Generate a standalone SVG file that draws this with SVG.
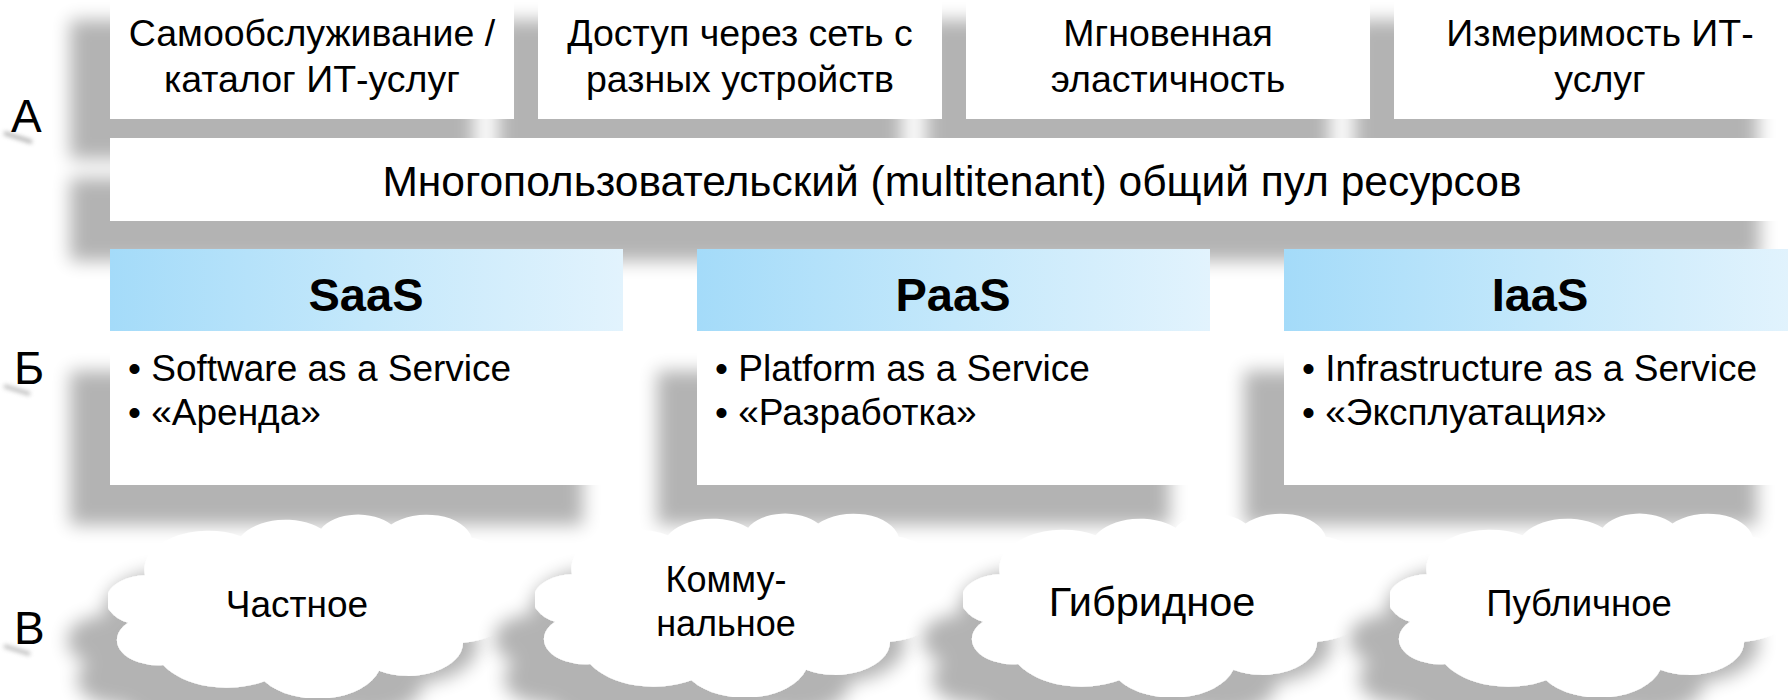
<svg xmlns="http://www.w3.org/2000/svg" xmlns:xlink="http://www.w3.org/1999/xlink" width="1788" height="700" viewBox="0 0 1788 700">
  <defs>
    <style>
      text { font-family: "Liberation Sans", Arial, Helvetica, sans-serif; fill: #000; }
      .top { font-size: 37.5px; text-anchor: middle; }
      .bar { font-size: 42.5px; text-anchor: middle; }
      .hdr { font-size: 47px; font-weight: bold; text-anchor: middle; }
      .bul { font-size: 37px; }
      .cl { font-size: 37px; text-anchor: middle; }
      .lbl { font-size: 46px; }
      .box { fill: #ffffff; }
    </style>
    <filter id="sh" x="-15%" y="-15%" width="130%" height="160%">
      <feGaussianBlur in="SourceAlpha" stdDeviation="9" result="b"/>
      <feOffset in="b" dx="-40" dy="40" result="o"/>
      <feComponentTransfer in="o" result="s"><feFuncA type="linear" slope="0.3"/></feComponentTransfer>
      <feMerge><feMergeNode in="s"/><feMergeNode in="SourceGraphic"/></feMerge>
    </filter>
    <filter id="smudge" x="-50%" y="-200%" width="200%" height="500%">
      <feGaussianBlur stdDeviation="2"/>
    </filter>
    <linearGradient id="hg" x1="0" y1="0" x2="1" y2="0">
      <stop offset="0" stop-color="#a4dbf9"/>
      <stop offset="0.5" stop-color="#c4e8fb"/>
      <stop offset="1" stop-color="#e2f3fd"/>
    </linearGradient>
    <symbol id="cloud" viewBox="0 0 43200 43200" preserveAspectRatio="none">
      <path fill="#ffffff" d="M3900 14370 A6753 9190 0 0 1 14005 5202 A5333 7267 0 0 1 22460 3434 A4365 5945 0 0 1 29838 2483 A4857 6595 0 0 1 38323 5578 A5333 7273 0 0 1 41824 15462 A6775 9220 0 0 1 37409 30204 A5785 7867 0 0 1 28560 36814 A6752 9215 0 0 1 16487 39269 A7720 10543 0 0 1 5811 35474 A4360 5918 0 0 1 2119 25553 A4345 5945 0 0 1 3900 14370 Z"/>
    </symbol>
  </defs>

  <rect x="0" y="0" width="1788" height="700" fill="#ffffff"/>

  <!-- Row labels -->
  <g id="labels">
    <path d="M4 133 L32 142" stroke="#9a9a9a" stroke-width="4" fill="none" filter="url(#smudge)" opacity="0.7"/>
    <path d="M4 386 L30 394" stroke="#9a9a9a" stroke-width="4" fill="none" filter="url(#smudge)" opacity="0.6"/>
    <path d="M4 646 L30 654" stroke="#9a9a9a" stroke-width="4" fill="none" filter="url(#smudge)" opacity="0.6"/>
    <text class="lbl" x="11" y="132">А</text>
    <text class="lbl" x="14" y="384">Б</text>
    <text class="lbl" x="14" y="644">В</text>
  </g>

  <!-- Section A: characteristics -->
  <g id="sectionA-shapes" filter="url(#sh)">
    <rect class="box" x="110" y="-20" width="404" height="139"/>
    <rect class="box" x="538" y="-20" width="404" height="139"/>
    <rect class="box" x="966" y="-20" width="404" height="139"/>
    <rect class="box" x="1394" y="-20" width="404" height="139"/>
    <rect class="box" x="110" y="138" width="1690" height="83"/>
  </g>
  <g id="a-selfservice">
    <text class="top" x="312" y="46">Самообслуживание /</text>
    <text class="top" x="312" y="92">каталог ИТ-услуг</text>
  </g>
  <g id="a-network">
    <text class="top" x="740" y="46">Доступ через сеть с</text>
    <text class="top" x="740" y="92">разных устройств</text>
  </g>
  <g id="a-elasticity">
    <text class="top" x="1168" y="46">Мгновенная</text>
    <text class="top" x="1168" y="92">эластичность</text>
  </g>
  <g id="a-measured">
    <text class="top" x="1600" y="46">Измеримость ИТ-</text>
    <text class="top" x="1600" y="92">услуг</text>
  </g>
  <g id="a-pool">
    <text class="bar" x="952" y="196">Многопользовательский (multitenant) общий пул ресурсов</text>
  </g>

  <!-- Section B: service models -->
  <g id="saas">
    <rect class="box" x="110" y="331" width="513" height="154" filter="url(#sh)"/>
    <rect x="110" y="249" width="513" height="82" fill="url(#hg)"/>
    <text class="hdr" x="366" y="311">SaaS</text>
    <text class="bul" x="128" y="381">• Software as a Service</text>
    <text class="bul" x="128" y="425">• «Аренда»</text>
  </g>
  <g id="paas">
    <rect class="box" x="697" y="331" width="513" height="154" filter="url(#sh)"/>
    <rect x="697" y="249" width="513" height="82" fill="url(#hg)"/>
    <text class="hdr" x="953" y="311">PaaS</text>
    <text class="bul" x="715" y="381">• Platform as a Service</text>
    <text class="bul" x="715" y="425">• «Разработка»</text>
  </g>
  <g id="iaas">
    <rect class="box" x="1284" y="331" width="513" height="154" filter="url(#sh)"/>
    <rect x="1284" y="249" width="513" height="82" fill="url(#hg)"/>
    <text class="hdr" x="1540" y="311">IaaS</text>
    <text class="bul" x="1302" y="381">• Infrastructure as a Service</text>
    <text class="bul" x="1302" y="425">• «Эксплуатация»</text>
  </g>

  <!-- Section C: deployment models -->
  <g id="private">
    <use xlink:href="#cloud" href="#cloud" x="108" y="514" width="410" height="184" filter="url(#sh)"/>
    <text class="cl" x="297" y="617">Частное</text>
  </g>
  <g id="community">
    <use xlink:href="#cloud" href="#cloud" x="535" y="513" width="410" height="184" filter="url(#sh)"/>
    <text class="cl" x="726" y="592" style="font-size:36px">Комму-</text>
    <text class="cl" x="726" y="636" style="font-size:36px">нальное</text>
  </g>
  <g id="hybrid">
    <use xlink:href="#cloud" href="#cloud" x="963" y="513" width="409" height="184" filter="url(#sh)"/>
    <text class="cl" x="1152" y="616" style="font-size:41.5px">Гибридное</text>
  </g>
  <g id="public">
    <use xlink:href="#cloud" href="#cloud" x="1390" y="513" width="409" height="184" filter="url(#sh)"/>
    <text class="cl" x="1579" y="616" style="font-size:36.5px">Публичное</text>
  </g>

  <g id="connectors"></g>
</svg>
